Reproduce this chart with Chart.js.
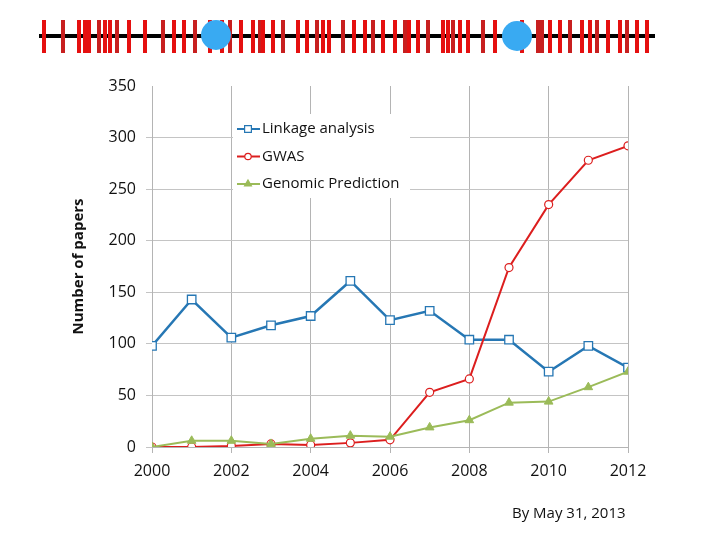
<!DOCTYPE html>
<html>
<head>
<meta charset="utf-8">
<script src="https://cdn.jsdelivr.net/npm/chart.js@4.4.0/dist/chart.umd.min.js"></script>
<style>
body { margin: 0; background: #fff; }
#wrap { position: relative; width: 720px; height: 540px; }
#box { position: absolute; left: 0; top: 0; width: 720px; height: 540px; }
#deco { position: absolute; left: 0; top: 0; }
#note { position: absolute; left: 512px; top: 502px; font: 15px "Open Sans", sans-serif; color: #111; }
</style>
</head>
<body>
<div id="wrap">
  <div id="box"><canvas id="chart"></canvas></div>
  <canvas id="deco" width="720" height="70"></canvas>
  <div id="note">By May 31, 2013</div>
</div>
<script>
//data
var years = [2000, 2001, 2002, 2003, 2004, 2005, 2006, 2007, 2008, 2009, 2010, 2011, 2012];
var linkage = [98, 143, 106, 118, 127, 161, 123, 132, 104, 104, 73, 98, 77];
var gwas = [0, 0, 1, 3, 2, 4, 7, 53, 66, 174, 235, 278, 292];
var genomic = [0, 6, 6, 3, 8, 11, 10, 19, 26, 43, 44, 58, 73];
var yTicks = [0, 50, 100, 150, 200, 250, 300, 350];

function pts(vals) {
  return vals.map(function(v, i) { return {x: years[i], y: v}; });
}

//legend drawn inside the plot, on a white box
var insideLegend = {
  id: 'insideLegend',
  afterDraw: function(chart) {
    var ctx = chart.ctx;
    ctx.save();
    ctx.fillStyle = '#fff';
    ctx.fillRect(233, 114, 177, 84);
    chart.data.datasets.forEach(function(ds, i) {
      var y = 129 + i * 27.5;
      ctx.strokeStyle = ds.borderColor;
      ctx.lineWidth = 2;
      ctx.beginPath();
      ctx.moveTo(237, y);
      ctx.lineTo(260, y);
      ctx.stroke();
      ctx.fillStyle = ds.pointBackgroundColor;
      ctx.lineWidth = 1.2;
      Chart.helpers.drawPoint(ctx, {pointStyle: ds.pointStyle, radius: ds.pointRadius * 0.8, borderWidth: 1.2}, 248, y);
      ctx.fillStyle = '#111';
      ctx.font = '15px "Open Sans"';
      ctx.textBaseline = 'middle';
      ctx.fillText(ds.label, 262, y);
    });
    ctx.restore();
  }
};

var ctx = document.getElementById('chart').getContext('2d');
var chart = new Chart(ctx, {
  type: 'line',
  data: {
    datasets: [{
      label: 'Linkage analysis',
      data: pts(linkage),
      borderColor: '#2677b4',
      borderWidth: 2.5,
      pointStyle: 'rect',
      pointRadius: 6,
      pointBackgroundColor: '#fff',
      pointBorderColor: '#2677b4',
      pointBorderWidth: 1.3,
      order: 3
    },
    {
      label: 'GWAS',
      data: pts(gwas),
      borderColor: '#dc1e1e',
      borderWidth: 2,
      pointStyle: 'circle',
      pointRadius: 4,
      pointBackgroundColor: '#fff',
      pointBorderColor: '#dc1e1e',
      pointBorderWidth: 1.2,
      order: 2
    },
    {
      label: 'Genomic Prediction',
      data: pts(genomic),
      borderColor: '#9bbb59',
      borderWidth: 2,
      pointStyle: 'triangle',
      pointRadius: 5,
      pointBackgroundColor: '#9bbb59',
      pointBorderColor: '#9bbb59',
      pointBorderWidth: 1,
      order: 1
    }]
  },
  options: {
    responsive: true,
    maintainAspectRatio: false,
    animation: false,
    layout: {padding: {left: 66, right: 92, top: 86, bottom: 53}},
    plugins: {
      legend: {display: false},
      tooltip: {enabled: false}
    },
    scales: {
      x: {
        type: 'linear',
        min: 2000,
        max: 2012,
        afterFit: function(s) { s.height = 40; },
        ticks: {
          stepSize: 2,
          color: '#111',
          font: {family: 'Open Sans', size: 16},
          padding: 9,
          callback: function(v) { return String(v); }
        },
        grid: {color: '#b4b4b4', tickLength: 6},
        border: {color: '#b4b4b4'}
      },
      y: {
        min: 0,
        max: 350,
        afterFit: function(s) { s.width = 86; },
        afterBuildTicks: function(s) { s.ticks = yTicks.map(function(v) { return {value: v}; }); },
        title: {
          display: true,
          text: 'Number of papers',
          color: '#111',
          font: {family: 'Open Sans', size: 15, weight: 'bold'}
        },
        ticks: {
          color: '#111',
          font: {family: 'Open Sans', size: 16},
          padding: 10
        },
        grid: {
          tickLength: 6,
          color: function(c) { return c.tick && c.tick.value === 350 ? 'rgba(0,0,0,0)' : '#c4c4c4'; }
        },
        border: {color: '#b4b4b4'}
      }
    }
  },
  plugins: [insideLegend]
});

//header ornament: red marks on a black bar with two blue dots
var marks = [44, 63, 79, 87, 99, 105, 110, 117, 129, 145, 163, 174, 184, 195, 210, 222, 230, 241, 253, 260, 263, 273, 283, 298, 307, 317, 323, 329, 343, 354,
  365, 373, 383, 395, 405, 409, 418, 428, 443, 448, 453, 460, 468, 483, 495, 522, 540, 550, 560, 570, 582, 590, 597, 608, 620, 627, 637, 647];
var dc = document.getElementById('deco').getContext('2d');
dc.fillStyle = '#000';
dc.fillRect(39, 34, 616, 4);
marks.forEach(function(x, i) {
  dc.fillStyle = i % 3 == 1 ? '#c81f1f' : '#e51010';
  var w = (x == 87 || x == 540) ? 8 : 4;
  dc.fillRect(x - w / 2, 20, w, 33);
});
dc.fillStyle = '#39aaf2';
[[216, 35], [517, 36]].forEach(function(c) {
  dc.beginPath();
  dc.arc(c[0], c[1], 15, 0, Math.PI * 2);
  dc.fill();
});
</script>
</body>
</html>
